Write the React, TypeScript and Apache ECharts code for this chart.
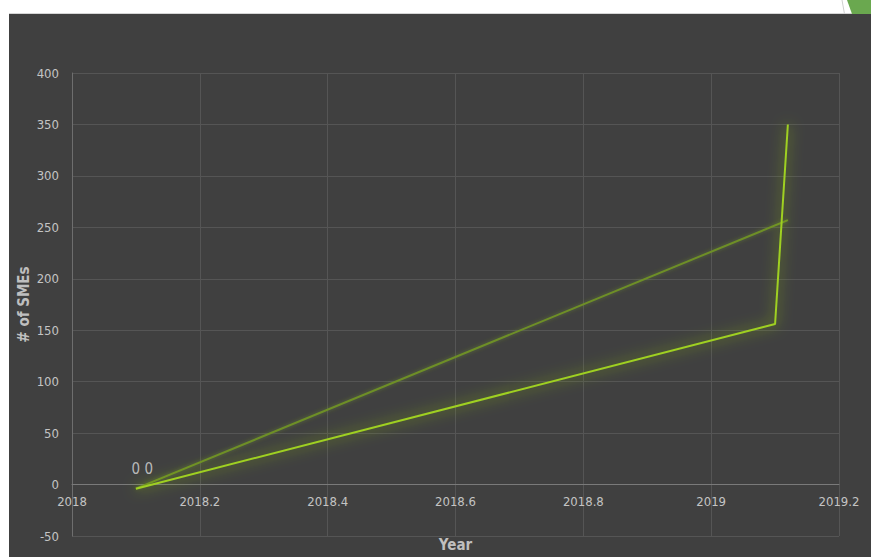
import React, { useEffect, useRef } from "react";
import * as echarts from "echarts";

const mainX = [2018.1, 2019.1, 2019.12];
const mainY = [-4, 156, 350];
const trendX = [2018.1, 2019.12];
const trendY = [-4, 257];
const zeroX = [2018.1, 2018.12];
const zeroY = [0, 0];
const xTicks = { min: 2018, max: 2019.2, interval: 0.2 };
const yTicks = { min: -50, max: 400, interval: 50 };

const FONT = "'DejaVu Sans Condensed', 'DejaVu Sans', sans-serif";
const GRID = { left: 72, right: 32, top: 73, bottom: 21 };
const H = 557;

export default function App() {
  const ref = useRef<HTMLDivElement>(null);
  useEffect(() => {
    if (!ref.current) return;
    const chart = echarts.init(ref.current, null, { renderer: "svg" });
    const mainData = mainX.map((x, i) => ({
      value: [x, mainY[i]],
      label: { show: i > 0 },
    }));
    // offset of the x axis so that it sits on the y = 0 line
    const plotH = H - GRID.top - GRID.bottom;
    const zeroOffset = (plotH * (0 - yTicks.min)) / (yTicks.max - yTicks.min);
    chart.setOption({
      animation: false,
      backgroundColor: "#ffffff",
      graphic: [
        { type: "rect", z: -10, shape: { x: 9, y: 14, width: 862, height: 543 }, style: { fill: "#404040" } },
        { type: "line", z: -10, shape: { x1: 9, y1: 13.5, x2: 871, y2: 13.5 }, style: { stroke: "#d6d6d6", lineWidth: 1 } },
        { type: "line", z: -10, shape: { x1: 842, y1: 0, x2: 844.5, y2: 14 }, style: { stroke: "#cfcfcf", lineWidth: 1 } },
        { type: "polygon", z: -10, shape: { points: [[847, 0], [871, 0], [871, 14], [852, 14]] }, style: { fill: "#6aa84f" } },
      ],
      grid: { ...GRID, containLabel: false, outerBoundsMode: "none" },
      xAxis: {
        type: "value",
        position: "bottom",
        offset: -zeroOffset,
        min: xTicks.min,
        max: xTicks.max,
        interval: xTicks.interval,
        name: "Year",
        nameLocation: "middle",
        nameGap: 53,
        nameMoveOverlap: false,
        nameTextStyle: { color: "#bfbfbf", fontSize: 15, fontWeight: "bold", fontFamily: FONT },
        axisLine: { onZero: false, lineStyle: { color: "#7a7a7a", width: 1 } },
        axisTick: { show: false },
        axisLabel: {
          color: "#c4c4c4",
          fontSize: 13,
          fontFamily: FONT,
          margin: 10,
          formatter: (v: number) => String(Math.round(v * 10) / 10),
        },
        splitLine: { show: true, lineStyle: { color: "#555555", width: 1 } },
      },
      yAxis: {
        type: "value",
        min: yTicks.min,
        max: yTicks.max,
        interval: yTicks.interval,
        name: "# of SMEs",
        nameLocation: "middle",
        nameGap: 41,
        nameMoveOverlap: false,
        nameTextStyle: { color: "#bfbfbf", fontSize: 15, fontWeight: "bold", fontFamily: FONT },
        axisLine: { show: true, onZero: false, lineStyle: { color: "#6e6e6e", width: 1 } },
        axisTick: { show: false },
        axisLabel: { color: "#c4c4c4", fontSize: 13, fontFamily: FONT, margin: 13 },
        splitLine: { show: true, lineStyle: { color: "#555555", width: 1 } },
      },
      series: [
        {
          type: "line",
          data: trendX.map((x, i) => [x, trendY[i]]),
          symbol: "none",
          lineStyle: { color: "#6e8f28", width: 2, shadowBlur: 4, shadowColor: "rgba(120,160,40,0.5)" },
          z: 3,
        },
        {
          type: "line",
          data: mainData,
          symbol: "none",
          showSymbol: false,
          lineStyle: { color: "#9fd020", width: 2, shadowBlur: 14, shadowColor: "rgba(150,210,30,0.95)" },
          label: {
            show: true,
            position: "top",
            distance: 9,
            color: "#d9d9d9",
            fontSize: 15,
            fontFamily: FONT,
            formatter: (p: any) => String(p.value[1]),
          },
          z: 4,
        },
        {
          type: "scatter",
          data: zeroX.map((x, i) => [x, zeroY[i]]),
          symbolSize: 1,
          itemStyle: { color: "rgba(0,0,0,0)" },
          label: {
            show: true,
            position: "top",
            distance: 8,
            color: "#d9d9d9",
            fontSize: 15,
            fontFamily: FONT,
            formatter: (p: any) => String(p.value[1]),
          },
          z: 5,
        },
      ],
    });
    return () => chart.dispose();
  }, []);
  return (
    <div
      ref={ref}
      style={{ position: "fixed", left: 0, top: 0, width: 871, height: H }}
    />
  );
}
